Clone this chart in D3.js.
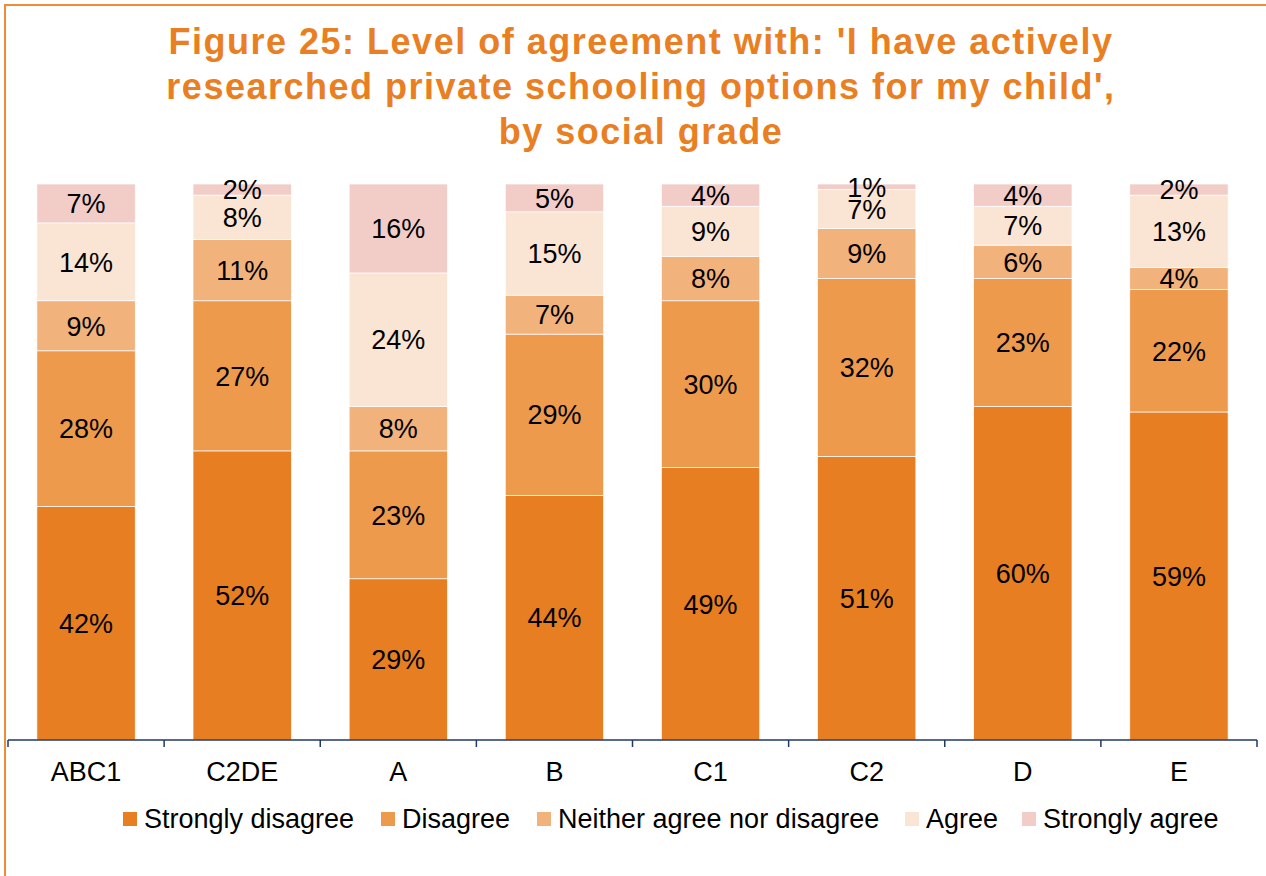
<!DOCTYPE html>
<html>
<head>
<meta charset="utf-8">
<script src="https://cdn.jsdelivr.net/npm/d3@7"></script>
<style>
    body { margin: 0; background: #fff; }
    svg { display: block; font-family: "Liberation Sans", Arial, sans-serif; }
</style>
</head>
<body>
<svg id="chart" width="1266" height="876"></svg>
<script>
// カテゴリ（社会階層）
const grades = ["ABC1", "C2DE", "A", "B", "C1", "C2", "D", "E"];
// 系列名
const seriesNames = ["Strongly disagree", "Disagree", "Neither agree nor disagree", "Agree", "Strongly agree"];
const seriesColors = ["#E87E22", "#ED9A4D", "#F2B27C", "#FAE5D5", "#F2CDC8"];

// 各系列の値（%）
const stronglyDisagree = [42, 52, 29, 44, 49, 51, 60, 59];
const disagree = [28, 27, 23, 29, 30, 32, 23, 22];
const neither = [9, 11, 8, 7, 8, 9, 6, 4];
const agree = [14, 8, 24, 15, 9, 7, 7, 13];
const stronglyAgree = [7, 2, 16, 5, 4, 1, 4, 2];

const titleLines = [
    "Figure 25: Level of agreement with: 'I have actively",
    "researched private schooling options for my child',",
    "by social grade"
];

function main() {
    const svg = d3.select("#chart");
    const values = [stronglyDisagree, disagree, neither, agree, stronglyAgree];

    // d3.stack 用の表を作る
    const table = grades.map((g, i) => {
        const row = { grade: g };
        seriesNames.forEach((s, j) => { row[s] = values[j][i]; });
        return row;
    });
    const stacked = d3.stack().keys(seriesNames)(table);

    // 外枠
    svg.append("rect")
        .attr("x", 5).attr("y", 5)
        .attr("width", 1300).attr("height", 900)
        .attr("fill", "none")
        .attr("stroke", "#EE8C3A")
        .attr("stroke-width", 2);

    // タイトル
    const title = svg.append("text")
        .attr("text-anchor", "middle")
        .attr("fill", "#E97F22")
        .attr("font-weight", "bold")
        .attr("font-size", 36)
        .attr("letter-spacing", 1.5);
    titleLines.forEach((t, i) => {
        title.append("tspan")
            .attr("x", 641)
            .attr("y", 54 + i * 45)
            .text(t);
    });

    /**プロット領域*/
    const left = 8, right = 1257, top = 184, bottom = 740;

    const x = d3.scaleBand()
        .domain(grades)
        .range([left, right])
        .paddingInner(0.37)
        .paddingOuter(0.185);
    const y = d3.scaleLinear().domain([0, 100]).range([bottom, top]);

    // 積み上げ棒
    const layer = svg.append("g").selectAll("g")
        .data(stacked)
        .join("g")
        .attr("fill", (d, i) => seriesColors[i]);

    layer.selectAll("rect")
        .data(d => d)
        .join("rect")
        .attr("x", d => x(d.data.grade))
        .attr("y", d => y(d[1]))
        .attr("width", x.bandwidth())
        .attr("height", d => y(d[0]) - y(d[1]))
        .attr("stroke", "#fff")
        .attr("stroke-width", 0.7);

    // データラベル
    layer.selectAll("text")
        .data(d => d)
        .join("text")
        .attr("x", d => x(d.data.grade) + x.bandwidth() / 2)
        .attr("y", d => (y(d[0]) + y(d[1])) / 2)
        .attr("dy", "0.36em")
        .attr("text-anchor", "middle")
        .attr("fill", "#000")
        .attr("font-size", 27)
        .text(d => (d[1] - d[0]) + "%");

    // x軸（カテゴリ境界に目盛り）
    const axisColor = "#1F3864";
    svg.append("line")
        .attr("x1", left).attr("x2", right)
        .attr("y1", bottom).attr("y2", bottom)
        .attr("stroke", axisColor)
        .attr("stroke-width", 1.5);
    const step = (right - left) / grades.length;
    d3.range(grades.length + 1).forEach(i => {
        svg.append("line")
            .attr("x1", left + i * step).attr("x2", left + i * step)
            .attr("y1", bottom).attr("y2", bottom + 7)
            .attr("stroke", axisColor)
            .attr("stroke-width", 1.5);
    });
    svg.append("g").selectAll("text")
        .data(grades)
        .join("text")
        .attr("x", d => x(d) + x.bandwidth() / 2)
        .attr("y", 781)
        .attr("text-anchor", "middle")
        .attr("font-size", 27)
        .attr("fill", "#000")
        .text(d => d);

    // 凡例
    const legendX = [123, 381, 537, 905, 1022];
    const legend = svg.append("g").selectAll("g")
        .data(seriesNames)
        .join("g")
        .attr("transform", (d, i) => `translate(${legendX[i]},812)`);
    legend.append("rect")
        .attr("width", 14).attr("height", 14)
        .attr("fill", (d, i) => seriesColors[i]);
    legend.append("text")
        .attr("x", 21)
        .attr("y", 16)
        .attr("font-size", 27)
        .attr("fill", "#000")
        .text(d => d);
}

main();
</script>
</body>
</html>
